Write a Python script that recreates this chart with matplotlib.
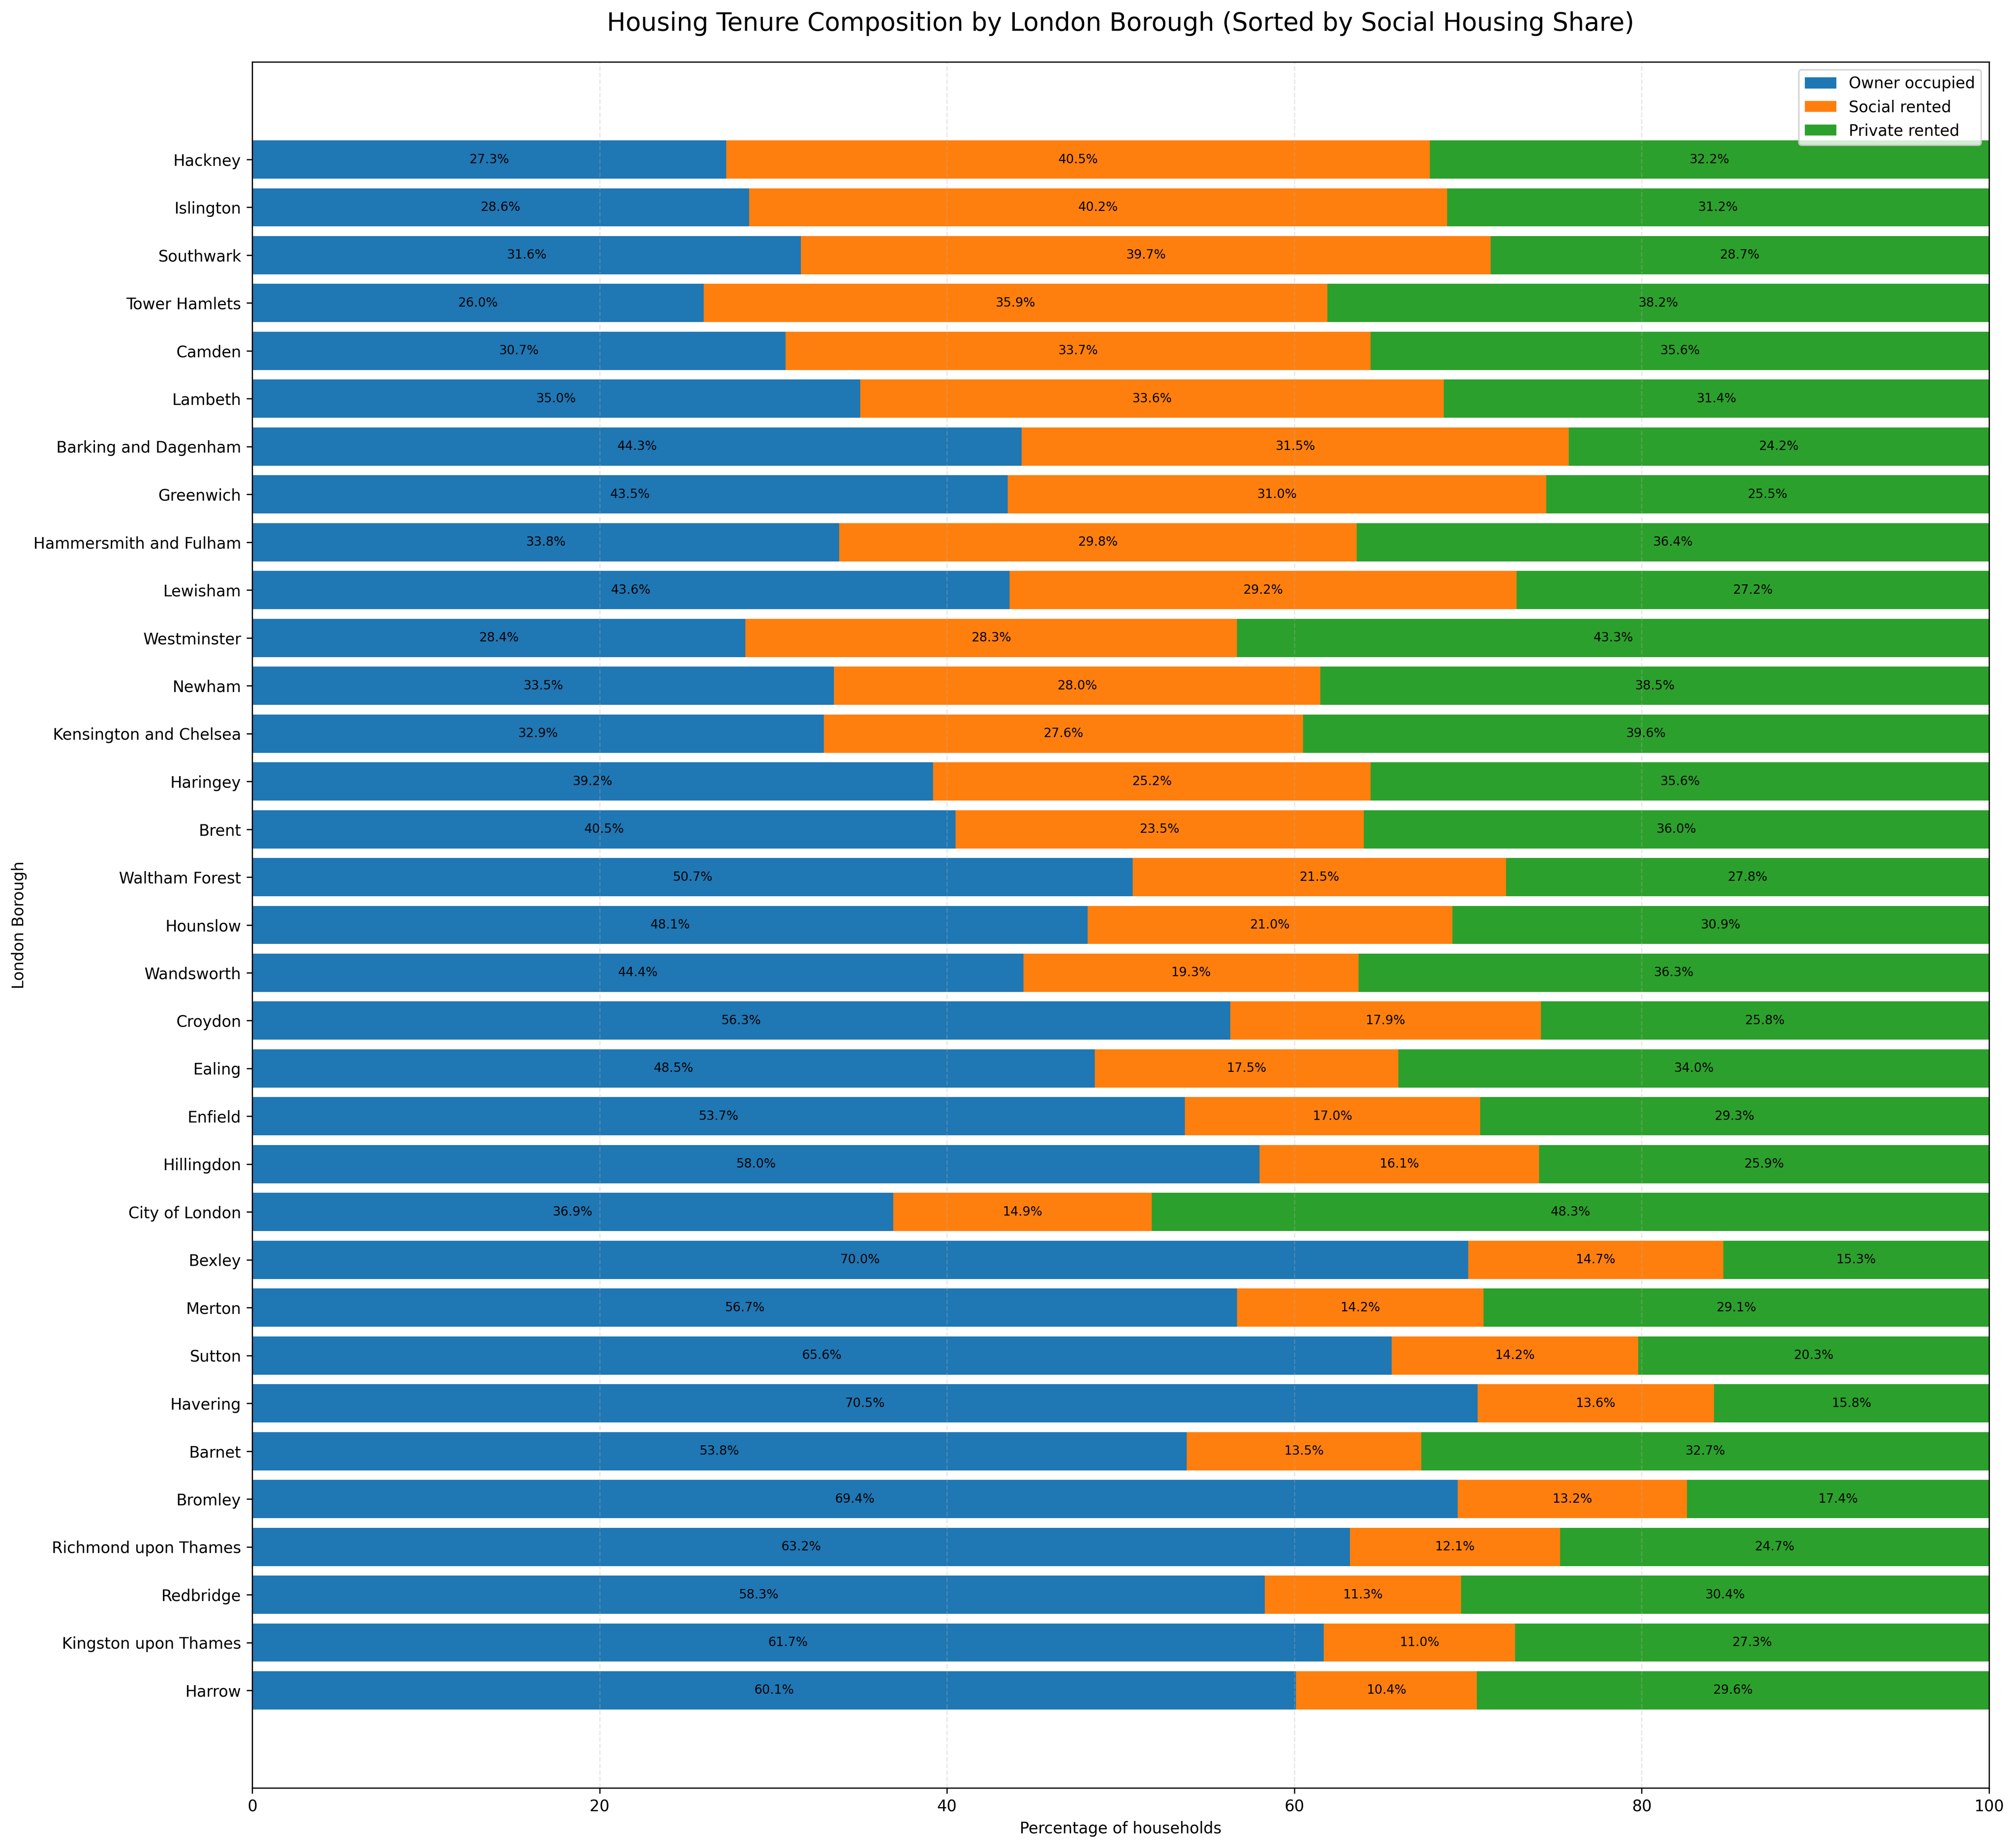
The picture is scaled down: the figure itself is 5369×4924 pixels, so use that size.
import matplotlib
matplotlib.use("Agg")
import matplotlib.pyplot as plt
import numpy as np

boroughs = ["Hackney", "Islington", "Southwark", "Tower Hamlets", "Camden", "Lambeth",
            "Barking and Dagenham", "Greenwich", "Hammersmith and Fulham", "Lewisham",
            "Westminster", "Newham", "Kensington and Chelsea", "Haringey", "Brent",
            "Waltham Forest", "Hounslow", "Wandsworth", "Croydon", "Ealing", "Enfield",
            "Hillingdon", "City of London", "Bexley", "Merton", "Sutton", "Havering",
            "Barnet", "Bromley", "Richmond upon Thames", "Redbridge",
            "Kingston upon Thames", "Harrow"]
owner = [27.3, 28.6, 31.6, 26.0, 30.7, 35.0, 44.3, 43.5, 33.8, 43.6, 28.4, 33.5, 32.9,
         39.2, 40.5, 50.7, 48.1, 44.4, 56.3, 48.5, 53.7, 58.0, 36.9, 70.0, 56.7, 65.6,
         70.54, 53.8, 69.4, 63.2, 58.3, 61.7, 60.1]
social = [40.5, 40.2, 39.7, 35.9, 33.7, 33.6, 31.5, 31.0, 29.8, 29.2, 28.3, 28.0, 27.6,
          25.2, 23.5, 21.5, 21.0, 19.3, 17.9, 17.5, 17.0, 16.1, 14.9, 14.7, 14.2, 14.2,
          13.62, 13.5, 13.2, 12.1, 11.3, 11.0, 10.4]
private = [32.2, 31.2, 28.7, 38.2, 35.6, 31.4, 24.2, 25.5, 36.4, 27.2, 43.3, 38.5, 39.6,
           35.6, 36.0, 27.8, 30.9, 36.3, 25.8, 34.0, 29.3, 25.9, 48.3, 15.3, 29.1, 20.3,
           15.84, 32.7, 17.4, 24.7, 30.4, 27.3, 29.6]
series_names = ["Owner occupied", "Social rented", "Private rented"]

# plot bottom-to-top (Harrow at bottom)
names = boroughs[::-1]
o = np.array(owner[::-1])
s = np.array(social[::-1])
p = np.array(private[::-1])
n = len(names)
y = np.arange(n)

fig = plt.figure(figsize=(5369 / 300, 4924 / 300), dpi=300)
ax = fig.add_axes([672 / 5369, 1 - 4764 / 4924, (5300 - 672) / 5369, (4764 - 165) / 4924])

colors = ["#1f77b4", "#ff7f0e", "#2ca02c"]
b1 = ax.barh(y, o, height=0.8, color=colors[0], label=series_names[0])
b2 = ax.barh(y, s, height=0.8, left=o, color=colors[1], label=series_names[1])
b3 = ax.barh(y, p, height=0.8, left=o + s, color=colors[2], label=series_names[2])
for b in (b1, b2, b3):
    ax.bar_label(b, labels=[f"{v:.1f}%" for v in b.datavalues], label_type="center", fontsize=8)

ax.set_yticks(y)
ax.set_yticklabels(names)
ax.set_xlim(0, 100)
ax.xaxis.grid(True, linestyle="--", alpha=0.3)
ax.set_xlabel("Percentage of households")
ax.set_ylabel("London Borough")
ax.set_title("Housing Tenure Composition by London Borough (Sorted by Social Housing Share)",
             fontsize=16, pad=20)
ax.legend(loc="upper right")

fig.savefig("out.png", dpi=300)
